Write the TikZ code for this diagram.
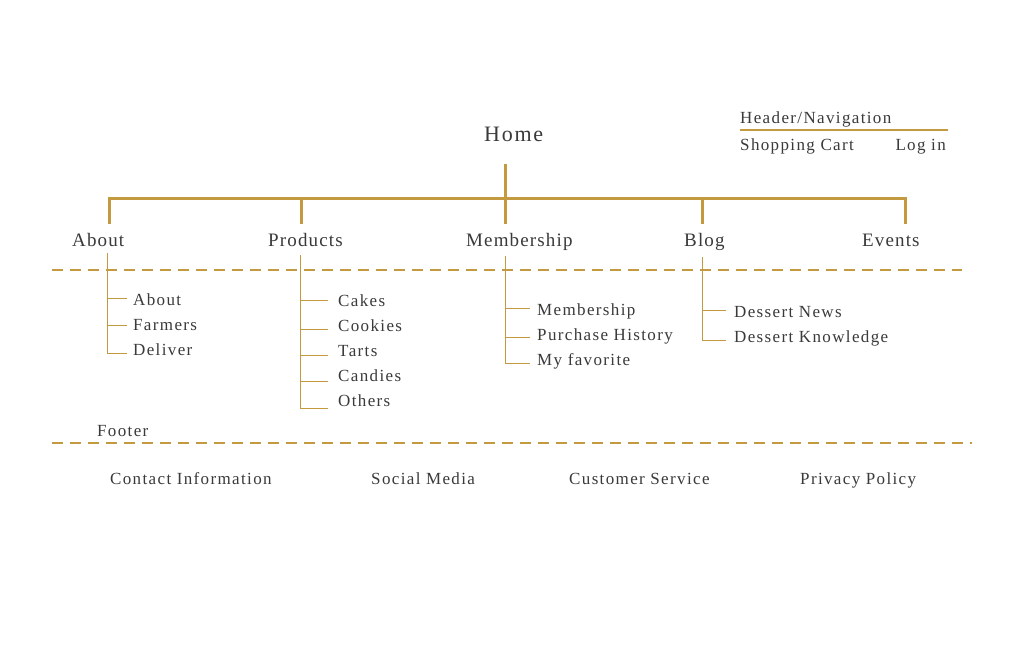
\documentclass[tikz,border=0pt]{standalone}
\usepackage{fontspec}
\setmainfont{Liberation Serif}
\newfontfamily\spacedS[LetterSpace=8]{Liberation Serif}
\newfontfamily\spacedT[LetterSpace=6]{Liberation Serif}
\definecolor{gold}{HTML}{C39A40}
\definecolor{ink}{HTML}{3A3A3A}
\tikzset{
  lbl/.style={inner sep=0pt, text=ink, anchor=base west, font=\spacedS\fontsize{17}{20}\selectfont},
  toplbl/.style={lbl, font=\spacedT\fontsize{19}{22}\selectfont},
  homelbl/.style={lbl, font=\spacedS\fontsize{22}{26}\selectfont},
  thick line/.style={draw=gold, line width=3pt},
  thin line/.style={draw=gold, line width=1pt},
  sep line/.style={draw=gold, line width=1.3pt, dash pattern=on 11pt off 7pt},
}
\begin{document}
\begin{tikzpicture}[x=1pt,y=-1pt]
\useasboundingbox[fill=white] (0,0) rectangle (1024,670);
% Home
\node[homelbl] (home) at (484,141) {Home};
% header navigation
\node[lbl] (hdr) at (740,123) {Header/Navigation};
\node[lbl] (cart) at (740,150) {Shopping Cart};
\node[lbl, anchor=base east] (login) at (946,150) {Log in};
\coordinate (hl) at (740,130);
\coordinate (hr) at (948,130);
\draw[draw=gold, line width=2pt] (hl) -- (hr);
% level 1
\node[toplbl] (about) at (72,246) {About};
\node[toplbl] (products) at (268,246) {Products};
\node[toplbl] (member) at (466,246) {Membership};
\node[toplbl] (blog) at (684,246) {Blog};
\node[toplbl] (events) at (862,246) {Events};
% tree
\coordinate (stemtop) at (505,164);
\coordinate (stembot) at (505,198);
\coordinate (j1) at (109,198); \coordinate (d1) at (109,224);
\coordinate (j2) at (301,198); \coordinate (d2) at (301,224);
\coordinate (j3) at (505,198); \coordinate (d3) at (505,224);
\coordinate (j4) at (702,198); \coordinate (d4) at (702,224);
\coordinate (j5) at (905,198); \coordinate (d5) at (905,224);
\draw[thick line] (stemtop) -- (stembot);
\draw[thick line, line join=miter] (d1) -- (j1) -- (j5) -- (d5);
\draw[thick line] (j2) -- (d2);
\draw[thick line] (j3) -- (d3);
\draw[thick line] (j4) -- (d4);
% separators
\coordinate (s1l) at (52,270); \coordinate (s1r) at (962,270);
\draw[sep line] (s1l) -- (s1r);
\coordinate (s2l) at (52,443); \coordinate (s2r) at (972,443);
\draw[sep line] (s2l) -- (s2r);
% About sub
\coordinate (a0) at (107,253); \coordinate (a3) at (107,353);
\draw[thin line] (a0) -- (a3);
\node[lbl] (about1) at (133,305) {About};
\node[lbl] (about2) at (133,330) {Farmers};
\node[lbl] (about3) at (133,355) {Deliver};
\draw[thin line] (107,298) -- (127,298);
\draw[thin line] (107,325.5) -- (127,325.5);
\draw[thin line] (107,353) -- (127,353);
% Products sub
\coordinate (p0) at (300,255); \coordinate (p5) at (300,408);
\draw[thin line] (p0) -- (p5);
\node[lbl] (prod1) at (338,306) {Cakes};
\node[lbl] (prod2) at (338,331) {Cookies};
\node[lbl] (prod3) at (338,356) {Tarts};
\node[lbl] (prod4) at (338,381) {Candies};
\node[lbl] (prod5) at (338,406) {Others};
\foreach \y in {300,329,355,381,408} \draw[thin line] (300,\y) -- (328,\y);
% Membership sub
\coordinate (m0) at (505,256); \coordinate (m3) at (505,363);
\draw[thin line] (m0) -- (m3);
\node[lbl] (mem1) at (537,315) {Membership};
\node[lbl] (mem2) at (537,340) {Purchase History};
\node[lbl] (mem3) at (537,365) {My favorite};
\foreach \y in {308,337,363} \draw[thin line] (505,\y) -- (530,\y);
% Blog sub
\coordinate (b0) at (702,257); \coordinate (b2) at (702,340);
\draw[thin line] (b0) -- (b2);
\node[lbl] (blog1) at (734,317) {Dessert News};
\node[lbl] (blog2) at (734,342) {Dessert Knowledge};
\foreach \y in {310,340} \draw[thin line] (702,\y) -- (726,\y);
% Footer
\node[lbl] (footer) at (97,436) {Footer};
\node[lbl] (f1) at (110,484) {Contact Information};
\node[lbl] (f2) at (371,484) {Social Media};
\node[lbl] (f3) at (569,484) {Customer Service};
\node[lbl] (f4) at (800,484) {Privacy Policy};
\end{tikzpicture}
\end{document}
